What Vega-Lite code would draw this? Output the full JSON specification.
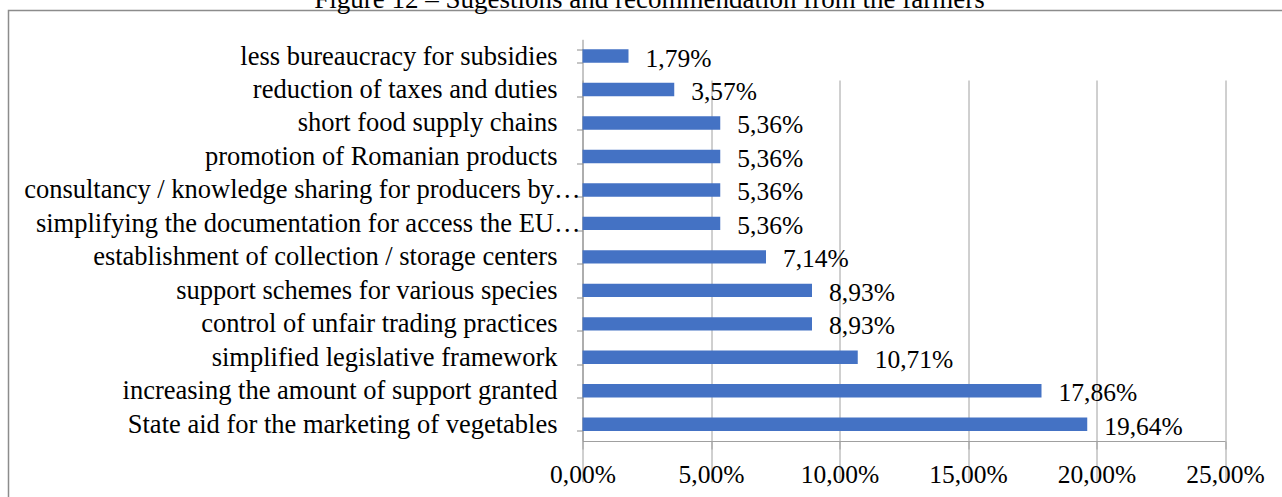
{
  "$schema": "https://vega.github.io/schema/vega-lite/v6.json",
  "width": 1290,
  "height": 500,
  "autosize": {"type": "none"},
  "padding": {"left": 8.5, "top": 10.5, "right": 0, "bottom": 0},
  "background": "white",
  "title": {
    "text": "Figure 12 – Sugestions and recommendation from the farmers",
    "font": "Liberation Serif",
    "fontSize": 27,
    "fontWeight": "normal",
    "color": "black",
    "anchor": "middle",
    "frame": "group",
    "baseline": "alphabetic",
    "offset": 0,
    "dy": 37,
    "dx": -4
  },
  "data": {
    "values": [
      {"suggestion": "less bureaucracy for subsidies", "share": 0.0179},
      {"suggestion": "reduction of taxes and duties", "share": 0.0357},
      {"suggestion": "short food supply chains", "share": 0.0536},
      {"suggestion": "promotion of Romanian products", "share": 0.0536},
      {"suggestion": "consultancy / knowledge sharing for producers by…", "share": 0.0536},
      {"suggestion": "simplifying the  documentation for access the EU…", "share": 0.0536},
      {"suggestion": "establishment of collection / storage centers", "share": 0.0714},
      {"suggestion": "support schemes for various species", "share": 0.0893},
      {"suggestion": "control of unfair trading practices", "share": 0.0893},
      {"suggestion": "simplified legislative framework", "share": 0.1071},
      {"suggestion": "increasing the amount of support granted", "share": 0.1786},
      {"suggestion": "State aid for the marketing of vegetables", "share": 0.1964}
    ]
  },
  "encoding": {
    "y": {
      "field": "suggestion",
      "type": "nominal",
      "sort": null,
      "scale": {"range": [28.8, 430.5], "paddingInner": 0.6, "paddingOuter": 0.3},
      "axis": {
        "title": null,
        "offset": -574,
        "tickBand": "extent",
        "tickSize": 6,
        "tickColor": "#8c8c8c",
        "domainColor": "#8c8c8c",
        "labelFont": "Liberation Serif",
        "labelFontSize": 26.5,
        "labelColor": "black",
        "labelPadding": {"condition": {"test": "indexof(datum.label, '…') >= 0", "value": -3.5}, "value": 19.5},
        "labelLimit": 700,
        "grid": false
      }
    },
    "x": {
      "field": "share",
      "type": "quantitative",
      "scale": {"domain": [0, 0.25], "range": [574, 1216.5], "nice": false, "zero": true},
      "axis": {
        "title": null,
        "orient": "bottom",
        "offset": -69.5,
        "values": [0, 0.05, 0.1, 0.15, 0.2, 0.25],
        "format": ".2%",
        "grid": true,
        "gridColor": "#a0a0a0",
        "tickColor": "#a0a0a0",
        "domainColor": "#a0a0a0",
        "tickSize": 8,
        "labelPadding": 13,
        "labelFlush": false,
        "labelOverlap": false,
        "labelFont": "Liberation Serif",
        "labelFontSize": 25.5,
        "labelColor": "black"
      }
    }
  },
  "layer": [
    {"mark": {"type": "bar", "color": "#4472C4"}},
    {
      "mark": {"type": "text", "align": "left", "baseline": "middle", "dx": 17, "dy": 2.5, "font": "Liberation Serif", "fontSize": 25.5, "color": "black"},
      "encoding": {"text": {"field": "share", "type": "quantitative", "format": ".2%"}}
    }
  ],
  "config": {
    "view": {"stroke": "#8c8c8c", "strokeWidth": 1.5},
    "locale": {"number": {"decimal": ",", "thousands": ".", "grouping": [3], "currency": ["", " €"]}}
  }
}
